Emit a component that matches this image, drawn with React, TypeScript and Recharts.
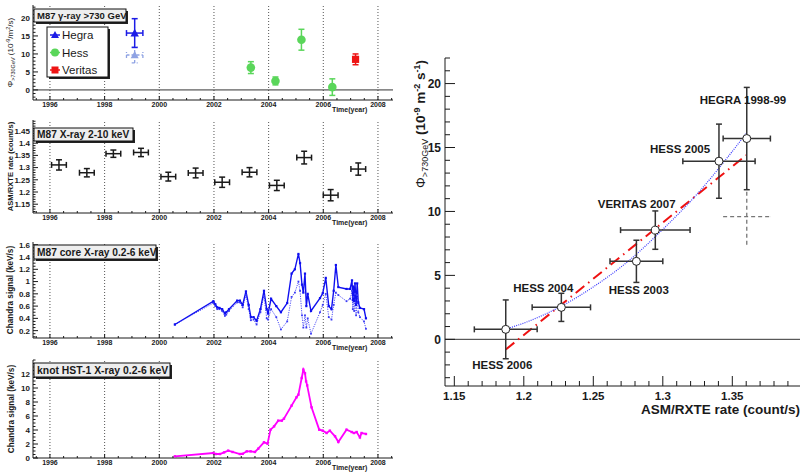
import React from 'react';
import { ComposedChart, Line, Scatter, XAxis, YAxis, ErrorBar, ReferenceLine } from 'recharts';

const FONT = '"Liberation Sans", Arial, Helvetica, sans-serif';
const INK = '#1a1a1a';

// ---- shared time axis of the four light curves
const timeDomain = [1995.38, 2008.55];
const yearLabels = [1996, 1998, 2000, 2002, 2004, 2006, 2008];

// ---- panel 1: VHE gamma-ray flux > 730 GeV (1e-9 m^-2 s^-1)
const hegraYear = [1999.1];
const hegraYearErr = [0.3];
const hegraFlux = [15.8];
const hegraFluxErr = [4.0];
const hegraAltFlux = [9.7];
const hegraAltErr = [2.2];
const hessYear = [2003.35, 2004.25, 2005.2, 2006.33];
const hessFlux = [6.2, 2.5, 13.95, 0.78];
const hessErr = [1.65, 1.1, 2.9, 2.3];
const veritasYear = [2007.18];
const veritasFlux = [8.5];
const veritasErr = [1.5];

// ---- panel 2: ASM/RXTE 2-10 keV yearly rates
const asmYear = [1996.33, 1997.35, 1998.32, 1999.33, 2000.33, 2001.33, 2002.3, 2003.3, 2004.3, 2005.3, 2006.27, 2007.28];
const asmRate = [1.311, 1.279, 1.357, 1.362, 1.263, 1.278, 1.24, 1.281, 1.227, 1.341, 1.187, 1.294];
const asmRateErr = [0.021, 0.017, 0.015, 0.017, 0.018, 0.02, 0.021, 0.019, 0.021, 0.026, 0.023, 0.025];

// ---- panel 3: Chandra core 0.2-6 keV
const coreYear = [2000.57, 2001.98, 2002.05, 2002.12, 2002.2, 2002.3, 2002.4, 2002.45, 2002.55, 2002.85, 2002.95,
  2003.05, 2003.17, 2003.27, 2003.35, 2003.45, 2003.56, 2003.7, 2003.83, 2003.93, 2003.98, 2004.09, 2004.28,
  2004.45, 2004.68, 2004.84, 2004.96, 2005.09, 2005.15, 2005.22, 2005.27, 2005.33, 2005.38, 2005.43, 2005.55,
  2005.88, 2005.98, 2006.09, 2006.2, 2006.3, 2006.38, 2006.46, 2006.55, 2006.85, 2006.98, 2007.05, 2007.08,
  2007.1, 2007.13, 2007.16, 2007.2, 2007.24, 2007.28, 2007.34, 2007.49, 2007.56];
const coreFlux = [0.3, 0.68, 0.63, 0.58, 0.57, 0.55, 0.48, 0.5, 0.55, 0.69, 0.69,
  0.62, 0.84, 0.62, 0.42, 0.42, 0.36, 0.55, 0.85, 0.55, 0.48, 0.72, 0.6,
  0.5, 0.65, 1.13, 1.2, 1.45, 1.3, 0.95, 0.82, 1.13, 0.6, 0.8, 0.52,
  0.73, 0.81, 1.06, 0.6, 0.55, 0.85, 1.27, 0.91, 0.88, 0.88, 1.02, 0.7,
  0.92, 0.68, 0.97, 0.62, 0.97, 0.66, 0.57, 0.55, 0.4];
const coreFluxAlt = [0.3, 0.65, 0.6, 0.55, 0.55, 0.52, 0.44, 0.46, 0.52, 0.66, 0.66,
  0.58, 0.78, 0.55, 0.37, 0.38, 0.3, 0.5, 0.77, 0.4, 0.38, 0.55, 0.42,
  0.22, 0.35, 0.75, 0.82, 1.0, 0.85, 0.45, 0.25, 0.45, 0.25, 0.4, 0.15,
  0.5, 0.62, 0.8, 0.42, 0.38, 0.62, 0.82, 0.78, 0.68, 0.72, 0.85, 0.55,
  0.75, 0.52, 0.8, 0.45, 0.78, 0.5, 0.42, 0.35, 0.23];

// ---- panel 4: Chandra knot HST-1 0.2-6 keV
const hstYear = [2000.57, 2001.98, 2002.07, 2002.22, 2002.37, 2002.52, 2002.68, 2002.95, 2003.05, 2003.2, 2003.34,
  2003.5, 2003.62, 2003.83, 2003.96, 2004.07, 2004.2, 2004.35, 2004.48, 2004.56, 2004.84, 2005.02, 2005.09,
  2005.21, 2005.27, 2005.33, 2005.37, 2005.41, 2005.57, 2005.85, 2005.98, 2006.12, 2006.24, 2006.43, 2006.55,
  2006.85, 2007.04, 2007.12, 2007.22, 2007.34, 2007.4, 2007.56];
const hstFlux = [0.24, 0.71, 0.57, 0.57, 0.8, 1.05, 0.86, 0.57, 0.6, 0.95, 0.95,
  0.86, 1.33, 2.24, 2.05, 4.05, 4.52, 5.33, 5.33, 5.62, 7.48, 8.67, 9.05,
  11.43, 12.62, 12.1, 10.95, 10.38, 7.24, 4.05, 3.9, 3.57, 3.9, 3.1, 2.29,
  4.05, 3.71, 3.57, 3.71, 2.95, 3.57, 3.43];

// ---- right panel: flux vs ASM rate
const corrLabels = ['HESS 2006', 'HESS 2004', 'HESS 2003', 'VERITAS 2007', 'HESS 2005', 'HEGRA 1998-99'];
const corrRate = [1.187, 1.227, 1.281, 1.2946, 1.3404, 1.3604];
const corrRateErr = [0.0226, 0.021, 0.019, 0.025, 0.026, 0.017];
const corrFlux = [0.78, 2.5, 6.1, 8.54, 13.93, 15.7];
const corrFluxErr = [2.3, 1.1, 1.65, 1.5, 2.9, 4.0];
const corrAltFlux = [9.6];
const corrAltErr = [2.2];
const labelAt = [[1.1845, -1.98], [1.214, 4.06], [1.2827, 3.85], [1.2812, 10.57], [1.3124, 14.87], [1.3577, 18.75]];
const linFitRate = [1.187, 1.36];
const linFitFlux = [-0.8, 14.4];
const quadFitRate = [1.187, 1.2, 1.225, 1.25, 1.275, 1.3, 1.325, 1.35, 1.36];
const quadFitFlux = [0.8, 1.27, 2.48, 4.1, 6.1, 8.6, 11.4, 14.7, 16.1];

const range = (a: number, b: number, s: number) => {
  const out: number[] = [];
  for (let i = 0; a + i * s <= b + 1e-9; i++) out.push(+(a + i * s).toFixed(4));
  return out;
};
const num = (v: number) => String(+v.toFixed(2));

const zip = (xs: number[], ys: number[]) => xs.map((x, i) => ({ x, y: ys[i] }));

type Side = 'left' | 'right' | 'top' | 'bottom';
function axisTick(side: Side, majors: number[], len: number, minorLen: number, fontSize = 8, gap = 3, fmt?: (v: number) => string) {
  return (p: any) => {
    const { x, y, payload } = p;
    const v = payload.value;
    const major = majors.some((m) => Math.abs(m - v) < 1e-6);
    const l = major ? len : minorLen;
    const txt = fmt && major ? fmt(v) : null;
    let line: any = null;
    let label: any = null;
    if (side === 'left') {
      line = <line x1={x} y1={y} x2={x + l} y2={y} />;
      if (txt) label = <text x={x - gap} y={y} dy="0.36em" textAnchor="end">{txt}</text>;
    } else if (side === 'right') {
      line = <line x1={x} y1={y} x2={x - l} y2={y} />;
    } else if (side === 'top') {
      line = <line x1={x} y1={y} x2={x} y2={y + l} />;
    } else {
      line = <line x1={x} y1={y} x2={x} y2={y - l} />;
      if (txt) label = <text x={x} y={y + gap} textAnchor="middle">{txt}</text>;
    }
    return (
      <g>
        <g stroke={INK} strokeWidth={1}>{line}</g>
        {label && <g fill={INK} stroke="none" fontFamily={FONT} fontWeight="bold" fontSize={fontSize}>{label}</g>}
      </g>
    );
  };
}

const frame = { stroke: INK, strokeWidth: 1 };
const yearTicks = range(1995.5, 2008.5, 0.5);

function TimePanel({ top, height, yDomain, yMajors, yTicks, children }: any) {
  return (
    <div style={{ position: 'absolute', left: 0, top, width: 400, height }}>
      <ComposedChart width={400} height={height} margin={{ top: 5, right: 7, bottom: 0, left: 0 }}>
        <XAxis dataKey="x" type="number" domain={timeDomain} allowDataOverflow ticks={yearTicks} interval={0}
          height={12} tickSize={0} tickMargin={0} tickLine={false} axisLine={frame}
          tick={axisTick('bottom', yearLabels, 4, 2, 7, 7, (v) => String(v))} />
        <XAxis xAxisId="top" orientation="top" dataKey="x" type="number" domain={timeDomain} allowDataOverflow
          height={0} tick={false} tickLine={false} axisLine={frame} />
        <YAxis dataKey="y" type="number" domain={yDomain} allowDataOverflow ticks={yTicks} interval={0}
          width={33} tickSize={0} tickMargin={0} tickLine={false} axisLine={frame}
          tick={axisTick('left', yMajors, 5, 2.5, 8, 3, num)} />
        <YAxis yAxisId="right" orientation="right" dataKey="y" type="number" domain={yDomain} allowDataOverflow
          width={0} tick={false} tickLine={false} axisLine={frame} />
        {yearLabels.map((yr) => (
          <ReferenceLine key={yr} x={yr} stroke="#555" strokeDasharray="1 2" />
        ))}
        {children}
      </ComposedChart>
    </div>
  );
}

const triangle = (color: string, s: number) => (p: any) => (
  <polygon points={`${p.cx},${p.cy - s} ${p.cx - s},${p.cy + s * 0.8} ${p.cx + s},${p.cy + s * 0.8}`} fill={color} />
);
const disc = (color: string, r: number) => (p: any) => <circle cx={p.cx} cy={p.cy} r={r} fill={color} />;
const square = (color: string, s: number) => (p: any) => (
  <rect x={p.cx - s} y={p.cy - s} width={2 * s} height={2 * s} fill={color} />
);
const nothing = (p: any) => <circle cx={p.cx} cy={p.cy} r={0} />;
const openCircle = (p: any) => <circle cx={p.cx} cy={p.cy} r={4} fill="#fff" stroke="#222" strokeWidth={1} />;
const tag = (p: any) => (
  <text x={p.cx} y={p.cy} dy="0.36em" textAnchor="middle" fontFamily={FONT} fontWeight="bold" fontSize={11.5} fill={INK}>
    {p.payload.name}
  </text>
);
const smallSquare = (color: string, s: number) => (p: any) => (
  <rect key={p.key} x={p.cx - s} y={p.cy - s} width={2 * s} height={2 * s} fill={color} />
);

const HEGRA = '#1c1ce6';
const HEGRA_ALT = '#8ea2e3';
const HESS = '#5ad65a';
const VERITAS = '#ee1414';
const CORE = '#1010f0';
const KNOT = '#ff00ff';

function TitleBox({ x, y, w, h, size, children }: any) {
  return (
    <g>
      <rect x={x + 2} y={y + 2} width={w} height={h} fill="#222" />
      <rect x={x} y={y} width={w} height={h} fill="#eeeeee" stroke="#111" strokeWidth={1} />
      <text x={x + 3} y={y + h / 2} dy="0.36em" fontSize={size} fontWeight="bold" fill={INK}>{children}</text>
    </g>
  );
}

function VTitle({ x, y, size, bold = true, children }: any) {
  return (
    <text transform={`translate(${x},${y}) rotate(-90)`} textAnchor="middle" fontSize={size}
      fontWeight={bold ? 'bold' : 'normal'} fill={INK}>{children}</text>
  );
}

export default function App() {
  const hegraPts = hegraYear.map((x, i) => ({ x, y: hegraFlux[i], ex: hegraYearErr[i], ey: hegraFluxErr[i] }));
  const hegraAltPts = hegraYear.map((x, i) => ({ x, y: hegraAltFlux[i], ex: hegraYearErr[i], ey: hegraAltErr[i] }));
  const hessPts = hessYear.map((x, i) => ({ x, y: hessFlux[i], ey: hessErr[i] }));
  const veritasPts = veritasYear.map((x, i) => ({ x, y: veritasFlux[i], ey: veritasErr[i] }));
  const asmPts = asmYear.map((x, i) => ({ x, y: asmRate[i], ex: 0.27, ey: asmRateErr[i] }));
  const corrPts = corrRate.map((x, i) => ({ x, y: corrFlux[i], ex: corrRateErr[i], ey: corrFluxErr[i] }));
  const corrAltPts = corrAltFlux.map((y, i) => ({ x: corrRate[5], y, ex: corrRateErr[5], ey: corrAltErr[i] }));
  const labelPts = corrLabels.map((name, i) => ({ x: labelAt[i][0], y: labelAt[i][1], name }));

  const rxDomain = [1.1433, 1.3987];
  const ryDomain = [-3.65, 22];
  const rxTicks = range(1.15, 1.39, 0.01);
  const rxMajors = range(1.15, 1.35, 0.05);
  const ryTicks = range(-3, 22, 1);
  const ryMajors = range(0, 20, 5);

  return (
    <div style={{ position: 'absolute', left: 0, top: 0, width: 801, height: 474, background: '#fff', fontFamily: FONT }}>
      {/* panel 1 */}
      <TimePanel top={0} height={112} yDomain={[-2.8, 23.6]} yMajors={range(0, 20, 5)} yTicks={range(-2, 23, 1)}>
        <ReferenceLine y={0} stroke="#333" />
        <Scatter data={hegraAltPts} isAnimationActive={false} shape={triangle(HEGRA_ALT, 4)}>
          <ErrorBar dataKey="ex" direction="x" width={3} stroke={HEGRA_ALT} strokeWidth={1.3} strokeDasharray="3 2" />
          <ErrorBar dataKey="ey" direction="y" width={3} stroke={HEGRA_ALT} strokeWidth={1.3} strokeDasharray="3 2" />
        </Scatter>
        <Scatter data={hegraPts} isAnimationActive={false} shape={triangle(HEGRA, 4.2)}>
          <ErrorBar dataKey="ex" direction="x" width={3} stroke={HEGRA} strokeWidth={1.5} />
          <ErrorBar dataKey="ey" direction="y" width={3} stroke={HEGRA} strokeWidth={1.5} />
        </Scatter>
        <Scatter data={hessPts} isAnimationActive={false} shape={disc(HESS, 4.3)}>
          <ErrorBar dataKey="ey" direction="y" width={3} stroke={HESS} strokeWidth={1.5} />
        </Scatter>
        <Scatter data={veritasPts} isAnimationActive={false} shape={square(VERITAS, 3.6)}>
          <ErrorBar dataKey="ey" direction="y" width={3} stroke={VERITAS} strokeWidth={1.5} />
        </Scatter>
      </TimePanel>

      {/* panel 2 */}
      <TimePanel top={115} height={110} yDomain={[1.114, 1.495]} yMajors={range(1.15, 1.45, 0.05)} yTicks={range(1.12, 1.49, 0.01)}>
        <Scatter data={asmPts} isAnimationActive={false} shape={nothing}>
          <ErrorBar dataKey="ex" direction="x" width={3} stroke={INK} strokeWidth={1.5} />
          <ErrorBar dataKey="ey" direction="y" width={3} stroke={INK} strokeWidth={1.5} />
        </Scatter>
      </TimePanel>

      {/* panel 3 */}
      <TimePanel top={237} height={113} yDomain={[0.08, 1.645]} yMajors={range(0.2, 1.6, 0.2)} yTicks={range(0.1, 1.6, 0.05)}>
        <Line data={zip(coreYear, coreFluxAlt)} dataKey="y" type="linear" stroke="#3a3af5" strokeWidth={0.9}
          strokeDasharray="1.2 1.2" dot={smallSquare('#3a3af5', 0.9)} isAnimationActive={false} />
        <Line data={zip(coreYear, coreFlux)} dataKey="y" type="linear" stroke={CORE} strokeWidth={1.4}
          dot={smallSquare(CORE, 1.1)} isAnimationActive={false} />
      </TimePanel>

      {/* panel 4 */}
      <TimePanel top={355} height={115} yDomain={[0, 14]} yMajors={range(0, 12, 2)} yTicks={range(0, 14, 0.5)}>
        <Line data={zip(hstYear, hstFlux)} dataKey="y" type="linear" stroke={KNOT} strokeWidth={1.8}
          dot={smallSquare(KNOT, 1.2)} isAnimationActive={false} />
      </TimePanel>

      {/* right panel */}
      <div style={{ position: 'absolute', left: 400, top: 40, width: 401, height: 376 }}>
        <ComposedChart width={401} height={376} margin={{ top: 18, right: 1, bottom: 0, left: 0 }}>
          <XAxis dataKey="x" type="number" domain={rxDomain} allowDataOverflow ticks={rxTicks} interval={0}
            height={30} tickSize={0} tickMargin={0} tickLine={false} axisLine={frame}
            tick={axisTick('bottom', rxMajors, 10, 5, 11.5, 14, num)} />
          <XAxis xAxisId="top" orientation="top" dataKey="x" type="number" domain={rxDomain} allowDataOverflow
            ticks={rxTicks} interval={0} height={0} tickSize={0} tickMargin={0} tickLine={false} axisLine={frame}
            tick={axisTick('top', rxMajors, 10, 5)} />
          <YAxis dataKey="y" type="number" domain={ryDomain} allowDataOverflow ticks={ryTicks} interval={0}
            width={45} tickSize={0} tickMargin={0} tickLine={false} axisLine={frame}
            tick={axisTick('left', ryMajors, 10, 5, 12, 4, num)} />
          <YAxis yAxisId="right" orientation="right" dataKey="y" type="number" domain={ryDomain} allowDataOverflow
            ticks={ryTicks} interval={0} width={0} tickSize={0} tickMargin={0} tickLine={false} axisLine={frame}
            tick={axisTick('right', ryMajors, 10, 5)} />
          <ReferenceLine y={0} stroke="#333" />
          <Line data={zip(linFitRate, linFitFlux)} dataKey="y" type="linear" stroke="#ee1111" strokeWidth={2}
            strokeDasharray="11 5 1.5 5" dot={false} isAnimationActive={false} />
          <Line data={zip(quadFitRate, quadFitFlux)} dataKey="y" type="monotone" stroke="#3a3aff" strokeWidth={1.2}
            strokeDasharray="1 1.2" dot={false} isAnimationActive={false} />
          <Scatter data={corrAltPts} isAnimationActive={false} shape={nothing}>
            <ErrorBar dataKey="ex" direction="x" width={0} stroke="#777" strokeWidth={1.3} strokeDasharray="4 3" />
            <ErrorBar dataKey="ey" direction="y" width={0} stroke="#777" strokeWidth={1.3} strokeDasharray="4 3" />
          </Scatter>
          <Scatter data={corrPts} isAnimationActive={false} shape={openCircle}>
            <ErrorBar dataKey="ex" direction="x" width={3} stroke="#333" strokeWidth={1.5} />
            <ErrorBar dataKey="ey" direction="y" width={3} stroke="#333" strokeWidth={1.5} />
          </Scatter>
          <Scatter data={labelPts} isAnimationActive={false} shape={tag} />
        </ComposedChart>
      </div>

      {/* titles, legend and axis names */}
      <svg width={801} height={474} style={{ position: 'absolute', left: 0, top: 0, pointerEvents: 'none' }}
        fontFamily={FONT}>
        <TitleBox x={34} y={9} w={92} h={13} size={9.5}>M87 γ-ray &gt;730 GeV</TitleBox>
        <TitleBox x={34} y={128} w={99} h={13} size={10.2}>M87 X-ray 2-10 keV</TitleBox>
        <TitleBox x={34} y={245} w={122} h={14} size={10.2}>M87 core X-ray 0.2-6 keV</TitleBox>
        <TitleBox x={34} y={363} w={136} h={14} size={10.4}>knot HST-1 X-ray 0.2-6 keV</TitleBox>

        <g>
          <rect x={49} y={29} width={61} height={50} fill="#222" />
          <rect x={47} y={27} width={61} height={50} fill="#fff" stroke="#111" />
          <line x1={50} x2={60} y1={35} y2={35} stroke={HEGRA} strokeWidth={1.5} />
          <polygon points="55,31 51,38 59,38" fill={HEGRA} />
          <text x={62} y={35} dy="0.36em" fontSize={11.5} fill={INK}>Hegra</text>
          <line x1={50} x2={60} y1={52.5} y2={52.5} stroke={HESS} strokeWidth={1.5} />
          <circle cx={55} cy={52.5} r={4} fill={HESS} />
          <text x={62} y={52.5} dy="0.36em" fontSize={11.5} fill={INK}>Hess</text>
          <line x1={50} x2={60} y1={70} y2={70} stroke={VERITAS} strokeWidth={1.5} />
          <rect x={51.5} y={66.5} width={7} height={7} fill={VERITAS} />
          <text x={62} y={70} dy="0.36em" fontSize={11.5} fill={INK}>Veritas</text>
        </g>

        <VTitle x={13} y={52.5} size={8} bold={false}>
          Φ<tspan fontSize={5.5} dy={2}>&gt;730GeV</tspan><tspan dy={-2}> (10</tspan>
          <tspan fontSize={5.5} dy={-3}>-9</tspan><tspan dy={3}>/m</tspan>
          <tspan fontSize={5.5} dy={-3}>2</tspan><tspan dy={3}>/s)</tspan>
        </VTitle>
        <VTitle x={12.5} y={166.5} size={7.6}>ASM/RXTE rate (count/s)</VTitle>
        <VTitle x={13} y={290} size={8.2}>Chandra signal (keV/s)</VTitle>
        <VTitle x={14} y={409} size={8.2}>Chandra signal (keV/s)</VTitle>

        {[100, 213, 338, 458].map((b) => (
          <text key={b} x={332} y={b + 11.5} fontSize={7} fontWeight="bold" fill={INK}>Time(year)</text>
        ))}

        <text x={800} y={414} textAnchor="end" fontSize={13.5} fontWeight="bold" fill={INK}>ASM/RXTE rate (count/s)</text>
        <text transform="translate(425,60) rotate(-90)" textAnchor="end" fontSize={13.5} fontWeight="bold" fill={INK}>
          <tspan fontWeight="normal">Φ</tspan><tspan fontSize={9} fontWeight="normal" dy={3}>&gt;730GeV</tspan>
          <tspan dy={-3}> (10</tspan><tspan fontSize={9} dy={-5}>-9</tspan><tspan dy={5}> m</tspan>
          <tspan fontSize={9} dy={-5}>-2</tspan><tspan dy={5}> s</tspan><tspan fontSize={9} dy={-5}>-1</tspan>
          <tspan dy={5}>)</tspan>
        </text>
      </svg>
    </div>
  );
}
